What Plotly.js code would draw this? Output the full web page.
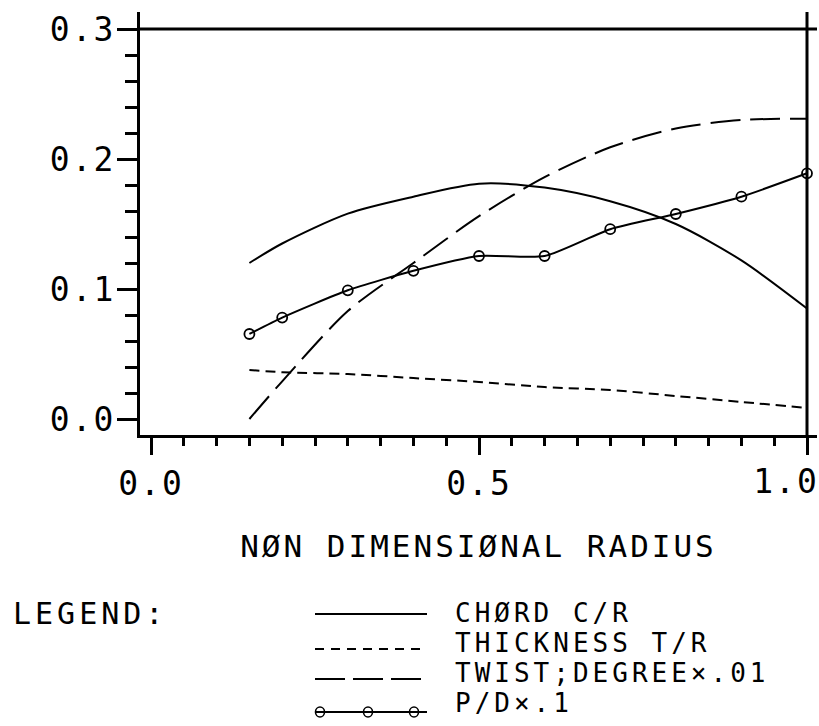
<!DOCTYPE html>
<html>
<head>
<meta charset="utf-8">
<script src="https://cdn.plot.ly/plotly-3.0.1.min.js"></script>
<style>
html,body{margin:0;padding:0;background:#fff;}
.annotation-text{letter-spacing:4px;}
.xtitle{letter-spacing:3px;}
.xtick text,.x2tick text,.ytick text{letter-spacing:2px;}
</style>
</head>
<body>
<div id="chart" style="width:819px;height:726px;"></div>
<script>
// Non-dimensional radius stations
const radius = [0.15, 0.2, 0.3, 0.4, 0.5, 0.6, 0.7, 0.8, 0.9, 1.0];
// Series values
const chord     = [0.120, 0.135, 0.158, 0.171, 0.181, 0.178, 0.1675, 0.150, 0.122, 0.085];
const thickness = [0.0377, 0.036, 0.0346, 0.0315, 0.0285, 0.0246, 0.0223, 0.0177, 0.0131, 0.0085];
const twist     = [0.000, 0.029, 0.083, 0.120, 0.156, 0.186, 0.209, 0.2235, 0.230, 0.231];
const pitch     = [0.0654, 0.078, 0.099, 0.114, 0.1254, 0.1254, 0.146, 0.1577, 0.171, 0.189];

const xTickVals = [0, 0.5];
const xTickText = ["0.0", "0.5"];
const xEndTickVals = [1.0];
const xEndTickText = ["1.0"];
const yTickVals = [0, 0.1, 0.2, 0.3];
const yTickText = ["0.0", "0.1", "0.2", "0.3"];

const legendHeading = "LEGEND:";
const legendLabels = ["CHØRD C/R", "THICKNESS T/R", "TWIST;DEGREE×.01", "P/D×.1"];
const xTitle = "NØN DIMENSIØNAL RADIUS";

const FONT = "DejaVu Sans Mono";
const W = 819, H = 726;
const M = {l: 140, r: 2, t: 12, b: 291};
const PW = W - M.l - M.r, PH = H - M.t - M.b;
// helpers converting page pixels to paper coords (legend decoration only)
const px = v => (v - M.l) / PW;
const py = v => (H - M.b - v) / PH;

const lineW = 2;
const traces = [
  {x: radius, y: chord, mode: 'lines', name: legendLabels[0],
   line: {color: '#000', width: lineW, shape: 'spline', smoothing: 0.8}},
  {x: radius, y: thickness, mode: 'lines', name: legendLabels[1],
   line: {color: '#000', width: lineW, dash: '10px,6px', shape: 'spline', smoothing: 0.8}},
  {x: radius, y: twist, mode: 'lines', name: legendLabels[2],
   line: {color: '#000', width: lineW, dash: '30px,10px', shape: 'spline', smoothing: 0.8}},
  {x: radius, y: pitch, mode: 'lines+markers', name: legendLabels[3], xaxis: 'x2',
   line: {color: '#000', width: lineW, shape: 'spline', smoothing: 0.6},
   marker: {symbol: 'circle-open', size: 10, color: '#000', line: {width: 1.8, color: '#000'}}}
];

// legend decoration
const rowsLineY = [614, 649, 679, 712];
const rowsTextY = [613, 643, 673, 703];
const dashes = ['solid', '9px,7px', '30px,8px', 'solid'];
const shapes = [
  {type: 'line', xref: 'paper', yref: 'y', x0: 0, x1: 1, y0: 0.3, y1: 0.3,
   line: {color: '#000', width: 3}},
  {type: 'line', xref: 'x', yref: 'paper', x0: 1.0, x1: 1.0, y0: 0, y1: 1,
   line: {color: '#000', width: 3}}
];
rowsLineY.forEach((yy, i) => {
  shapes.push({type: 'line', xref: 'paper', yref: 'paper',
    x0: px(315), x1: px(427), y0: py(yy), y1: py(yy),
    line: {color: '#000', width: 2, dash: dashes[i]}});
});
[320, 368, 414].forEach(cx => {
  shapes.push({type: 'circle', xref: 'paper', yref: 'paper',
    xsizemode: 'pixel', ysizemode: 'pixel', xanchor: px(cx), yanchor: py(712),
    x0: -4.5, x1: 4.5, y0: -5, y1: 5, line: {color: '#000', width: 1.6}});
});

const annotations = [
  {text: legendHeading, xref: 'paper', yref: 'paper', x: px(11), y: py(613),
   xanchor: 'left', yanchor: 'middle', showarrow: false,
   font: {family: FONT, size: 30, color: '#000'}}
];
legendLabels.forEach((t, i) => {
  annotations.push({text: t, xref: 'paper', yref: 'paper', x: px(453), y: py(rowsTextY[i]),
    xanchor: 'left', yanchor: 'middle', showarrow: false,
    font: {family: FONT, size: 26, color: '#000'}});
});

const xRange = [(140 - 151) / 656, (817 - 151) / 656];
const tickFont = {family: FONT, size: 33, color: '#000'};

const layout = {
  width: W, height: H,
  margin: M,
  paper_bgcolor: '#fff', plot_bgcolor: '#fff',
  showlegend: false,
  font: {family: FONT, color: '#000'},
  xaxis: {
    range: xRange,
    showgrid: false, zeroline: false,
    showline: true, linecolor: '#000', linewidth: 3,
    ticks: 'outside', tickmode: 'array', tickvals: xTickVals.concat(xEndTickVals),
    ticktext: xTickText.concat([""]),
    ticklen: 17, tickwidth: 3, tickcolor: '#000',
    minor: {dtick: 0.05, tick0: 0, ticks: 'outside', ticklen: 8, tickwidth: 3, tickcolor: '#000', showgrid: false},
    tickfont: tickFont,
    title: {text: xTitle, font: {family: FONT, size: 31, color: '#000'}, standoff: 34}
  },
  xaxis2: {
    overlaying: 'x', anchor: 'y', side: 'bottom',
    range: xRange,
    showgrid: false, zeroline: false, showline: false,
    ticks: 'outside', tickmode: 'array', tickvals: xEndTickVals, ticktext: xEndTickText,
    ticklen: 17, tickwidth: 3, tickcolor: '#000',
    ticklabelshift: -21, ticklabeloverflow: 'allow',
    tickfont: tickFont
  },
  yaxis: {
    range: [(419 - 435) / 1300, (419 - 12) / 1300],
    showgrid: false, zeroline: false,
    showline: true, linecolor: '#000', linewidth: 3,
    ticks: 'outside', tickmode: 'array', tickvals: yTickVals, ticktext: yTickText,
    ticklen: 20, tickwidth: 3, tickcolor: '#000',
    ticklabelstandoff: -5,
    minor: {dtick: 0.02, tick0: 0, ticks: 'outside', ticklen: 12, tickwidth: 3, tickcolor: '#000', showgrid: false},
    tickfont: tickFont
  },
  shapes: shapes,
  annotations: annotations
};

Plotly.newPlot('chart', traces, layout, {displayModeBar: false, staticPlot: true});
</script>
</body>
</html>
